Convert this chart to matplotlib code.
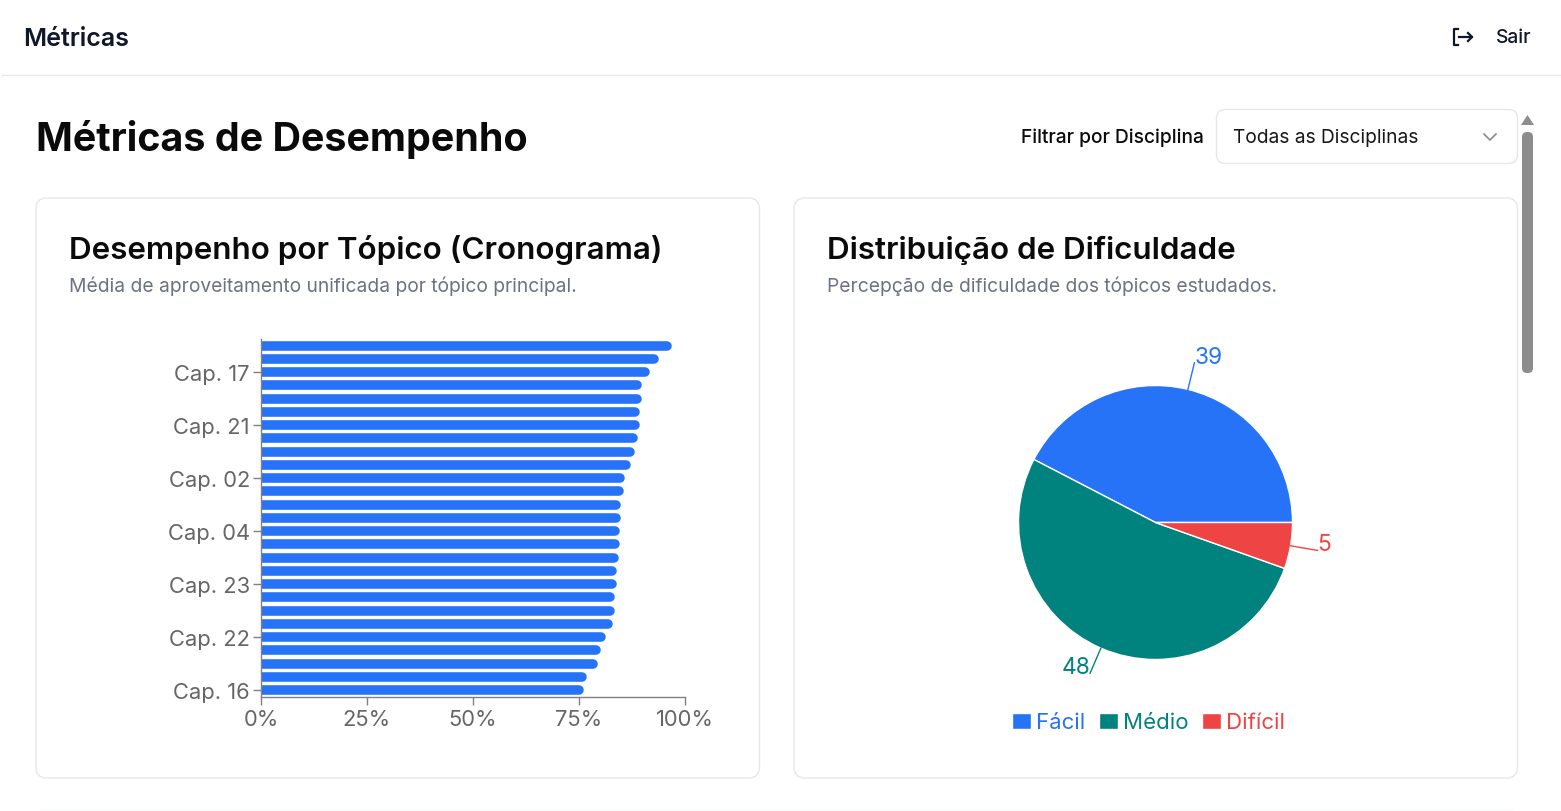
import matplotlib.pyplot as plt
from matplotlib.patches import FancyBboxPatch, Polygon
from matplotlib.ticker import PercentFormatter
import numpy as np

plt.rcParams['font.family'] = ['Inter', 'DejaVu Sans']

W, H = 1561, 812

# bar chart, top to bottom
bar_values = [96.9, 93.9, 91.6, 89.9, 89.9, 89.4, 89.3, 88.9, 88.2, 87.2, 85.7, 85.6, 84.9, 84.9,
              84.7, 84.6, 84.4, 83.9, 83.9, 83.4, 83.4, 82.9, 81.3, 80.2, 79.4, 76.9, 76.2]
tick_rows = [2, 6, 10, 14, 18, 22, 26]
tick_labels = ['Cap. 17', 'Cap. 21', 'Cap. 02', 'Cap. 04', 'Cap. 23', 'Cap. 22', 'Cap. 16']
x_ticks = [0, 25, 50, 75, 100]

# pie chart
pie_labels = ['Fácil', 'Médio', 'Difícil']
pie_values = [39, 48, 5]
pie_colors = ['#2673f8', '#00827f', '#ef4444']

BLUE = '#2673f8'
INK = '#0a0a0a'
GREY = '#6b7280'
BORDER = '#e5e7eb'
AXIS = '#808080'
TICK = '#666666'


def px_axes(fig, left, top, right, bottom):
    # the whole picture sits 1px lower than the raw numbers
    return fig.add_axes([left / W, 1 - (bottom + 1) / H, (right - left) / W, (bottom - top) / H])


fig = plt.figure(figsize=(W / 100, H / 100), dpi=100, facecolor='white')

# page chrome, in pixel coordinates
page = fig.add_axes([0, 0, 1, 1])
page.set_xlim(0, W)
page.set_ylim(H - 1, -1)
page.axis('off')

page.text(23.5, 38.5, 'Métricas', fontsize=18, fontweight=600, color='#0f172a', va='center')
page.text(1496, 37, 'Sair', fontsize=13.8, fontweight=500, color='#0f172a', va='center')
page.plot([1458, 1454.5, 1454.5, 1458], [29, 29, 44.5, 44.5], color='#0f172a', lw=1.6)
page.plot([1459, 1472], [37, 37], color='#0f172a', lw=1.6)
page.plot([1468, 1472, 1468], [33, 37, 41], color='#0f172a', lw=1.6)
page.plot([2, W], [75, 75], color=BORDER, lw=1)

page.text(36, 138.5, 'Métricas de Desempenho', fontsize=28.4, fontweight=700, color=INK, va='center')
page.text(1021, 136.5, 'Filtrar por Disciplina', fontsize=13.8, fontweight=500, color=INK, va='center')


def rounded(x0, y0, x1, y1, r, **kw):
    page.add_patch(FancyBboxPatch((x0 + r, y0 + r), x1 - x0 - 2 * r, y1 - y0 - 2 * r,
                                  boxstyle='round,pad=%f,rounding_size=%f' % (r, r), **kw))


rounded(1216.5, 109.5, 1517.5, 163.5, 9, fc='white', ec=BORDER, lw=1)
page.text(1233, 136.8, 'Todas as Disciplinas', fontsize=13.8, color='#171717', va='center')
page.plot([1484, 1490, 1496], [134, 140, 134], color='#8a8a8a', lw=1.2)

# scrollbar
page.add_patch(Polygon([[1521, 125], [1534, 125], [1527.5, 115]], fc='#8c8c8c', ec='none'))
rounded(1522, 132, 1533, 373, 5, fc='#8c8c8c', ec='none')

# cards
rounded(36, 198, 759.5, 778, 11, fc='white', ec=BORDER, lw=1)
rounded(794, 198, 1517.5, 778, 11, fc='white', ec=BORDER, lw=1)
page.plot([40, 1514], [811, 811], color=BORDER, lw=1)

page.text(69, 249, 'Desempenho por Tópico (Cronograma)', fontsize=22.6, fontweight=600, color=INK, va='center')
page.text(69, 285.5, 'Média de aproveitamento unificada por tópico principal.', fontsize=13.85, color=GREY, va='center')
page.text(827, 249, 'Distribuição de Dificuldade', fontsize=22.6, fontweight=600, color=INK, va='center')
page.text(827, 285.5, 'Percepção de dificuldade dos tópicos estudados.', fontsize=13.85, color=GREY, va='center')

# bar chart
ax = px_axes(fig, 261, 339, 685, 696.8)
ax.patch.set_alpha(0)
ax.set_xlim(0, 100)
ax.set_ylim(len(bar_values) - 0.5, -0.5)

# round caps stick out by half the line width, so stop the lines short by that much
bar_px = 9.6
cap = (bar_px / 2) / 4.24
rows = np.arange(len(bar_values))
ax.hlines(rows, 0, np.array(bar_values) - cap, colors=BLUE, linewidth=bar_px * 0.72, capstyle='round')

for side in ['top', 'right']:
    ax.spines[side].set_visible(False)
for side in ['left', 'bottom']:
    ax.spines[side].set_color(AXIS)
    ax.spines[side].set_linewidth(1)
ax.set_yticks(tick_rows)
ax.set_yticklabels(tick_labels)
ax.set_xticks(x_ticks)
ax.xaxis.set_major_formatter(PercentFormatter(100, decimals=0))
ax.tick_params(axis='both', length=6, width=1, color=AXIS, labelcolor=TICK, labelsize=15.8, pad=2.5)
ax.tick_params(axis='y', pad=2)

# pie chart
pie_ax = px_axes(fig, 1018.5, 385.5, 1292.5, 659.5)
wedges, _ = pie_ax.pie(pie_values, colors=pie_colors, startangle=0, counterclock=True, radius=1,
                       wedgeprops={'edgecolor': 'white', 'linewidth': 1})
pie_ax.set_xlim(-1, 1)
pie_ax.set_ylim(-1, 1)
for wedge, val, col in zip(wedges, pie_values, pie_colors):
    mid = np.deg2rad((wedge.theta1 + wedge.theta2) / 2)
    c, s = np.cos(mid), np.sin(mid)
    end = (1.2 * c, 1.2 * s)
    pie_ax.plot([c, end[0]], [s, end[1]], color=col, lw=1, clip_on=False)
    pie_ax.annotate(str(val), end, xytext=(0, 4.5), textcoords='offset points',
                    ha='left' if c > 0 else 'right', va='center', color=col, fontsize=16.4,
                    annotation_clip=False)

leg_ax = px_axes(fig, 1000, 706, 1297, 739)
leg_ax.axis('off')
leg_ax.legend(wedges, pie_labels, loc='center', ncol=3, frameon=False, labelcolor=pie_colors,
              fontsize=16, handlelength=0.86, handleheight=0.7, handletextpad=0.24,
              columnspacing=0.6, borderaxespad=0, borderpad=0)

fig.savefig('out.png', dpi=100, facecolor='white')
